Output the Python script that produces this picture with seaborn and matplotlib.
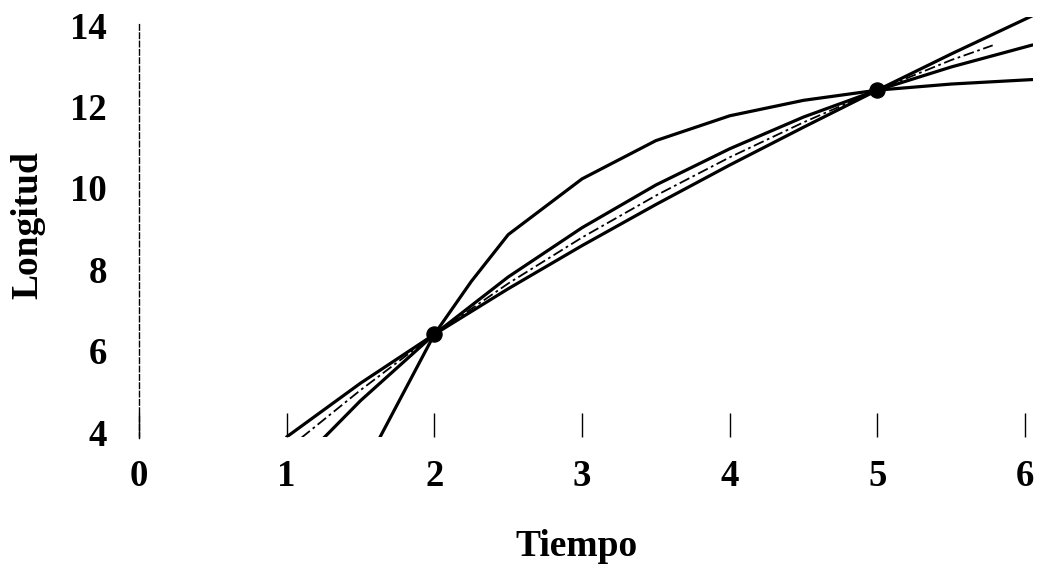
import numpy as np
import pandas as pd
import matplotlib
matplotlib.use("Agg")
import matplotlib.pyplot as plt
import seaborn as sns

# Growth curves: length versus time, all passing through two observed points
t_pow = [1.00, 1.5, 2.0, 2.5, 3.0, 3.5, 4.0, 4.5, 5.0, 5.5, 6.05]
L_pow = [3.88, 5.20, 6.40, 7.52, 8.58, 9.59, 10.56, 11.49, 12.40, 13.29, 14.23]

t_mid = [1.25, 1.5, 2.0, 2.5, 3.0, 3.5, 4.0, 4.5, 5.0, 5.5, 6.05]
L_mid = [3.85, 4.77, 6.40, 7.81, 9.02, 10.07, 10.96, 11.74, 12.40, 12.97, 13.51]

t_steep = [1.63, 2.0, 2.25, 2.5, 3.0, 3.5, 4.0, 4.5, 5.0, 5.5, 6.05]
L_steep = [3.86, 6.40, 7.70, 8.85, 10.22, 11.16, 11.77, 12.15, 12.40, 12.55, 12.66]

t_dash = [1.10, 1.5, 2.0, 2.5, 3.0, 3.5, 4.0, 4.5, 5.0, 5.5, 5.78]
L_dash = [3.86, 5.03, 6.40, 7.65, 8.78, 9.81, 10.75, 11.61, 12.40, 13.14, 13.50]

# Observed points
t_obs = [2.0, 5.0]
L_obs = [6.40, 12.40]

x_ticks = [0, 1, 2, 3, 4, 5, 6]
y_ticks = [4, 6, 8, 10, 12, 14]

sns.set_theme(style="white")
plt.rcParams["font.family"] = ["Liberation Serif", "DejaVu Serif"]
plt.rcParams["font.weight"] = "bold"
plt.rcParams["axes.labelweight"] = "bold"
plt.rcParams["text.color"] = "black"
plt.rcParams["axes.labelcolor"] = "black"
plt.rcParams["xtick.color"] = "black"
plt.rcParams["ytick.color"] = "black"

fig = plt.figure(figsize=(10.37, 5.78), dpi=100)
ax = fig.add_axes([0.1340, 0.2441, 0.8617, 0.7267])

solid = [(t_pow, L_pow), (t_mid, L_mid), (t_steep, L_steep)]
for tt, ll in solid:
    df = pd.DataFrame({"Tiempo": tt, "Longitud": ll})
    sns.lineplot(data=df, x="Tiempo", y="Longitud", ax=ax, color="black",
                 linewidth=2.3, sort=False, estimator=None)

df_d = pd.DataFrame({"Tiempo": t_dash, "Longitud": L_dash})
sns.lineplot(data=df_d, x="Tiempo", y="Longitud", ax=ax, color="black",
             linewidth=1.3, sort=False, estimator=None,
             dashes=False, linestyle=(0, (6, 2, 1.5, 2)))

df_o = pd.DataFrame({"Tiempo": t_obs, "Longitud": L_obs})
sns.scatterplot(data=df_o, x="Tiempo", y="Longitud", ax=ax, color="black",
                s=120, edgecolor="black", zorder=5)

ax.set_xlim(0, 6.05)
ax.set_ylim(3.88, 14.2)
ax.set_xticks(x_ticks)
ax.set_yticks(y_ticks)
ax.set_xticklabels([str(v) for v in x_ticks])
ax.set_yticklabels([str(v) for v in y_ticks])

for side in ["top", "right", "bottom"]:
    ax.spines[side].set_visible(False)
ax.spines["left"].set_linestyle((0, (4, 2)))
ax.spines["left"].set_linewidth(1.0)
ax.spines["left"].set_color("black")
ax.spines["left"].set_bounds(3.85, 14.05)

ax.tick_params(axis="x", direction="in", length=17, width=1.0, color="black",
               pad=16, labelsize=26.5, labelcolor="black", bottom=True)
ax.tick_params(axis="y", length=0, pad=23, labelsize=26.5, labelcolor="black")

ax.set_xlabel("Tiempo", fontsize=27, fontweight="bold", color="black")
ax.set_ylabel("Longitud", fontsize=27, fontweight="bold", color="black")
ax.xaxis.label.set_va("center")
ax.yaxis.label.set_va("center")
ax.xaxis.set_label_coords(0.490, -0.262)
ax.yaxis.set_label_coords(-0.124, 0.5045)

fig.savefig("out.png", dpi=100, facecolor="white")
